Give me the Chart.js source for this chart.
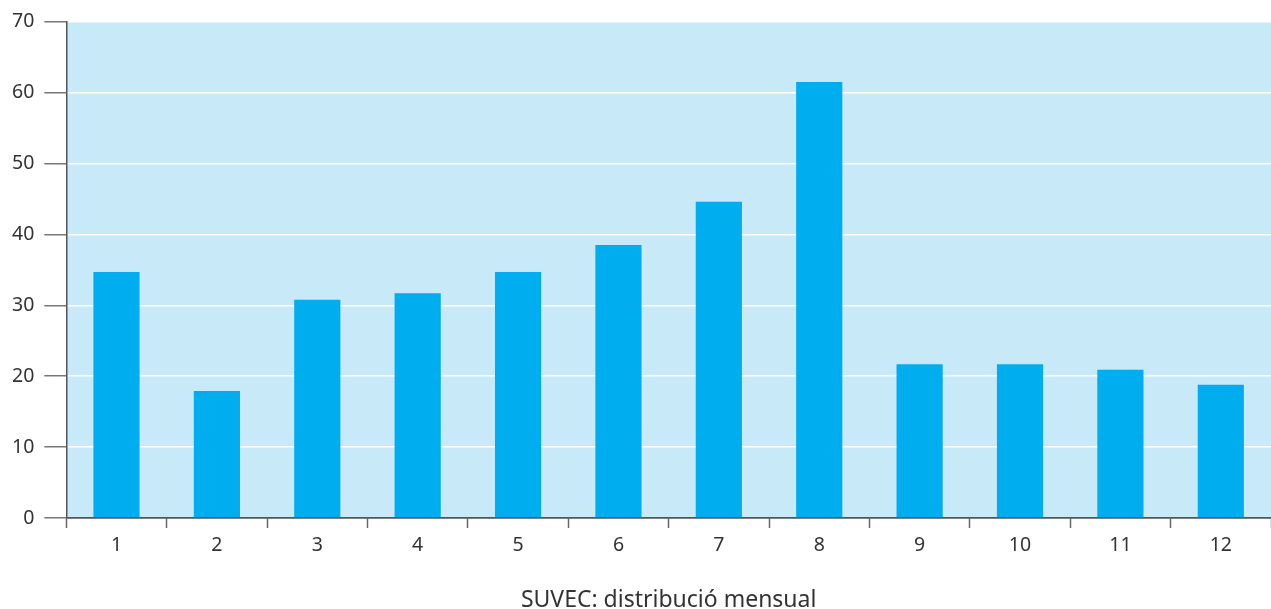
<!DOCTYPE html>
<html>
<head>
<meta charset="utf-8">
<script src="https://cdn.jsdelivr.net/npm/chart.js@4/dist/chart.umd.min.js"></script>
<style>
  html, body { margin: 0; padding: 0; background: #ffffff; }
  #wrap { width: 1271px; height: 609px; }
</style>
</head>
<body>
<div id="wrap"><canvas id="c" width="1271" height="609"></canvas></div>
<script>
// Monthly SUVEC distribution
const months = ['1', '2', '3', '4', '5', '6', '7', '8', '9', '10', '11', '12'];
const cases = [34.7, 17.9, 30.8, 31.7, 34.7, 38.5, 44.6, 61.5, 21.7, 21.7, 20.9, 18.8];
const yTicks = [0, 10, 20, 30, 40, 50, 60, 70];
const chartTitle = 'SUVEC: distribució mensual';

// Paints the light blue plot background behind the bars
const plotBackground = {
  id: 'plotBackground',
  beforeDraw(chart) {
    const { ctx, chartArea: a } = chart;
    ctx.save();
    ctx.fillStyle = '#c7e9f8';
    ctx.fillRect(a.left, a.top, a.right - a.left, a.bottom - a.top);
    ctx.restore();
  }
};

const FONT = "'Noto Sans', 'Open Sans', sans-serif";

new Chart(document.getElementById('c'), {
  type: 'bar',
  data: {
    labels: months,
    datasets: [{
      data: cases,
      backgroundColor: '#00adef',
      borderWidth: 0,
      categoryPercentage: 1,
      barPercentage: 0.46
    }]
  },
  options: {
    responsive: false,
    animation: false,
    layout: { padding: { top: 13, right: 0, left: 2, bottom: -5 } },
    plugins: {
      legend: { display: false },
      tooltip: { enabled: false },
      title: {
        display: true,
        text: chartTitle,
        position: 'bottom',
        fullSize: false,
        color: '#333333',
        font: { family: FONT, size: 23, weight: 'normal' },
        padding: { top: 23, bottom: 0 }
      }
    },
    scales: {
      x: {
        offset: true,
        grid: {
          offset: true,
          drawOnChartArea: false,
          drawTicks: true,
          tickLength: 10,
          tickColor: '#666666',
          tickWidth: 1.5
        },
        border: { display: true, color: '#555555', width: 1.5 },
        ticks: {
          color: '#333333',
          font: { family: FONT, size: 19.5 },
          padding: 6
        }
      },
      y: {
        min: 0,
        max: 70,
        afterBuildTicks(axis) { axis.ticks = yTicks.map(v => ({ value: v })); },
        grid: {
          color: (c) => (c.tick && c.tick.value === 0) ? '#555555' : '#ffffff',
          lineWidth: 1.5,
          drawTicks: true,
          tickLength: 22,
          tickColor: '#777777',
          tickWidth: 1.5
        },
        border: { display: true, color: '#555555', width: 1.5 },
        ticks: {
          color: '#333333',
          font: { family: FONT, size: 19.5 },
          padding: 10
        }
      }
    }
  },
  plugins: [plotBackground]
});
</script>
</body>
</html>
